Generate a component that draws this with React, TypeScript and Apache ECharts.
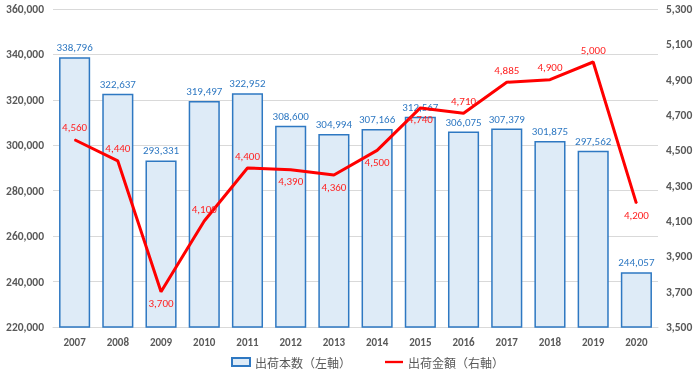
import React, { useEffect, useRef } from "react";
import * as echarts from "echarts";

const years = ["2007", "2008", "2009", "2010", "2011", "2012", "2013", "2014", "2015", "2016", "2017", "2018", "2019", "2020"];
const shipmentCount = [338796, 322637, 293331, 319497, 322952, 308600, 304994, 307166, 312567, 306075, 307379, 301875, 297562, 244057];
const shipmentValue = [4560, 4440, 3700, 4100, 4400, 4390, 4360, 4500, 4740, 4710, 4885, 4900, 5000, 4200];
const rightTicks = [3500, 3700, 3900, 4100, 4300, 4500, 4700, 4900, 5100, 5300];
const lineLabelPlacement = ["top", "top", "bottom", "top", "top", "bottom", "bottom", "bottom", "bottom", "top", "top", "top", "top", "bottom"];

const seriesNames = ["出荷本数（左軸）", "出荷金額（右軸）"];

const fmt = (v: number) => v.toLocaleString("en-US");
const FONT = "Carlito, Lato, 'Noto Sans CJK JP', sans-serif";

export default function App() {
  const ref = useRef<HTMLDivElement>(null);
  useEffect(() => {
    if (!ref.current) return;
    const chart = echarts.init(ref.current, null, { renderer: "svg" });
    chart.setOption({
      animation: false,
      textStyle: { fontFamily: FONT },
      grid: { left: 53, right: 42, top: 9, bottom: 51, containLabel: false },
      legend: {
        bottom: 5,
        left: 226,
        itemGap: 34,
        itemWidth: 18,
        itemHeight: 8,
        textStyle: { color: "#595959", fontSize: 12, fontFamily: "'Noto Sans CJK JP', sans-serif" },
        data: [
          { name: seriesNames[0], icon: "rect" },
          { name: seriesNames[1], icon: "path://M0,0H20V2.6H0Z", itemStyle: { color: "#FF0000" } },
        ],
      },
      xAxis: {
        type: "category",
        data: years,
        axisLine: { lineStyle: { color: "#D9D9D9" } },
        axisTick: { show: false },
        axisLabel: { color: "#595959", fontSize: 11, fontWeight: "bold", margin: 10 },
      },
      yAxis: [
        {
          type: "value",
          min: 220000,
          max: 360000,
          interval: 20000,
          axisLabel: { color: "#595959", fontSize: 11.5, fontWeight: "bold", margin: 9, formatter: (v: number) => fmt(v) },
          splitLine: { lineStyle: { color: "#D9D9D9" } },
          axisLine: { show: false },
          axisTick: { show: false },
        },
        {
          type: "value",
          min: 3500,
          max: 5300,
          position: "right",
          axisLabel: {
            color: "#595959",
            fontSize: 11.5,
            fontWeight: "bold",
            margin: 8,
            customValues: rightTicks,
            formatter: (v: number) => fmt(v),
          },
          splitLine: { show: false },
          axisLine: { show: false },
          axisTick: { show: false },
        },
      ],
      series: [
        {
          name: seriesNames[0],
          type: "bar",
          yAxisIndex: 0,
          data: shipmentCount,
          barCategoryGap: "28%",
          itemStyle: { color: "#DEEBF7", borderColor: "#2E78C2", borderWidth: 1.5 },
          label: {
            show: true,
            position: "top",
            distance: 4,
            color: "#2E78C2",
            fontSize: 11,
            formatter: (p: any) => fmt(p.value),
          },
        },
        {
          name: seriesNames[1],
          type: "line",
          yAxisIndex: 1,
          symbol: "circle",
          symbolSize: 1,
          showSymbol: true,
          lineStyle: { color: "#FF0000", width: 3 },
          itemStyle: { color: "#FF0000" },
          data: shipmentValue.map((v, i) => ({
            value: v,
            label: { position: lineLabelPlacement[i] },
          })),
          label: {
            show: true,
            color: "#FF1F1F",
            fontSize: 11,
            distance: 6,
            formatter: (p: any) => fmt(p.value),
          },
          z: 3,
        },
      ],
    });
    return () => chart.dispose();
  }, []);
  return <div ref={ref} style={{ position: "fixed", left: 0, top: 0, width: 700, height: 378 }} />;
}
